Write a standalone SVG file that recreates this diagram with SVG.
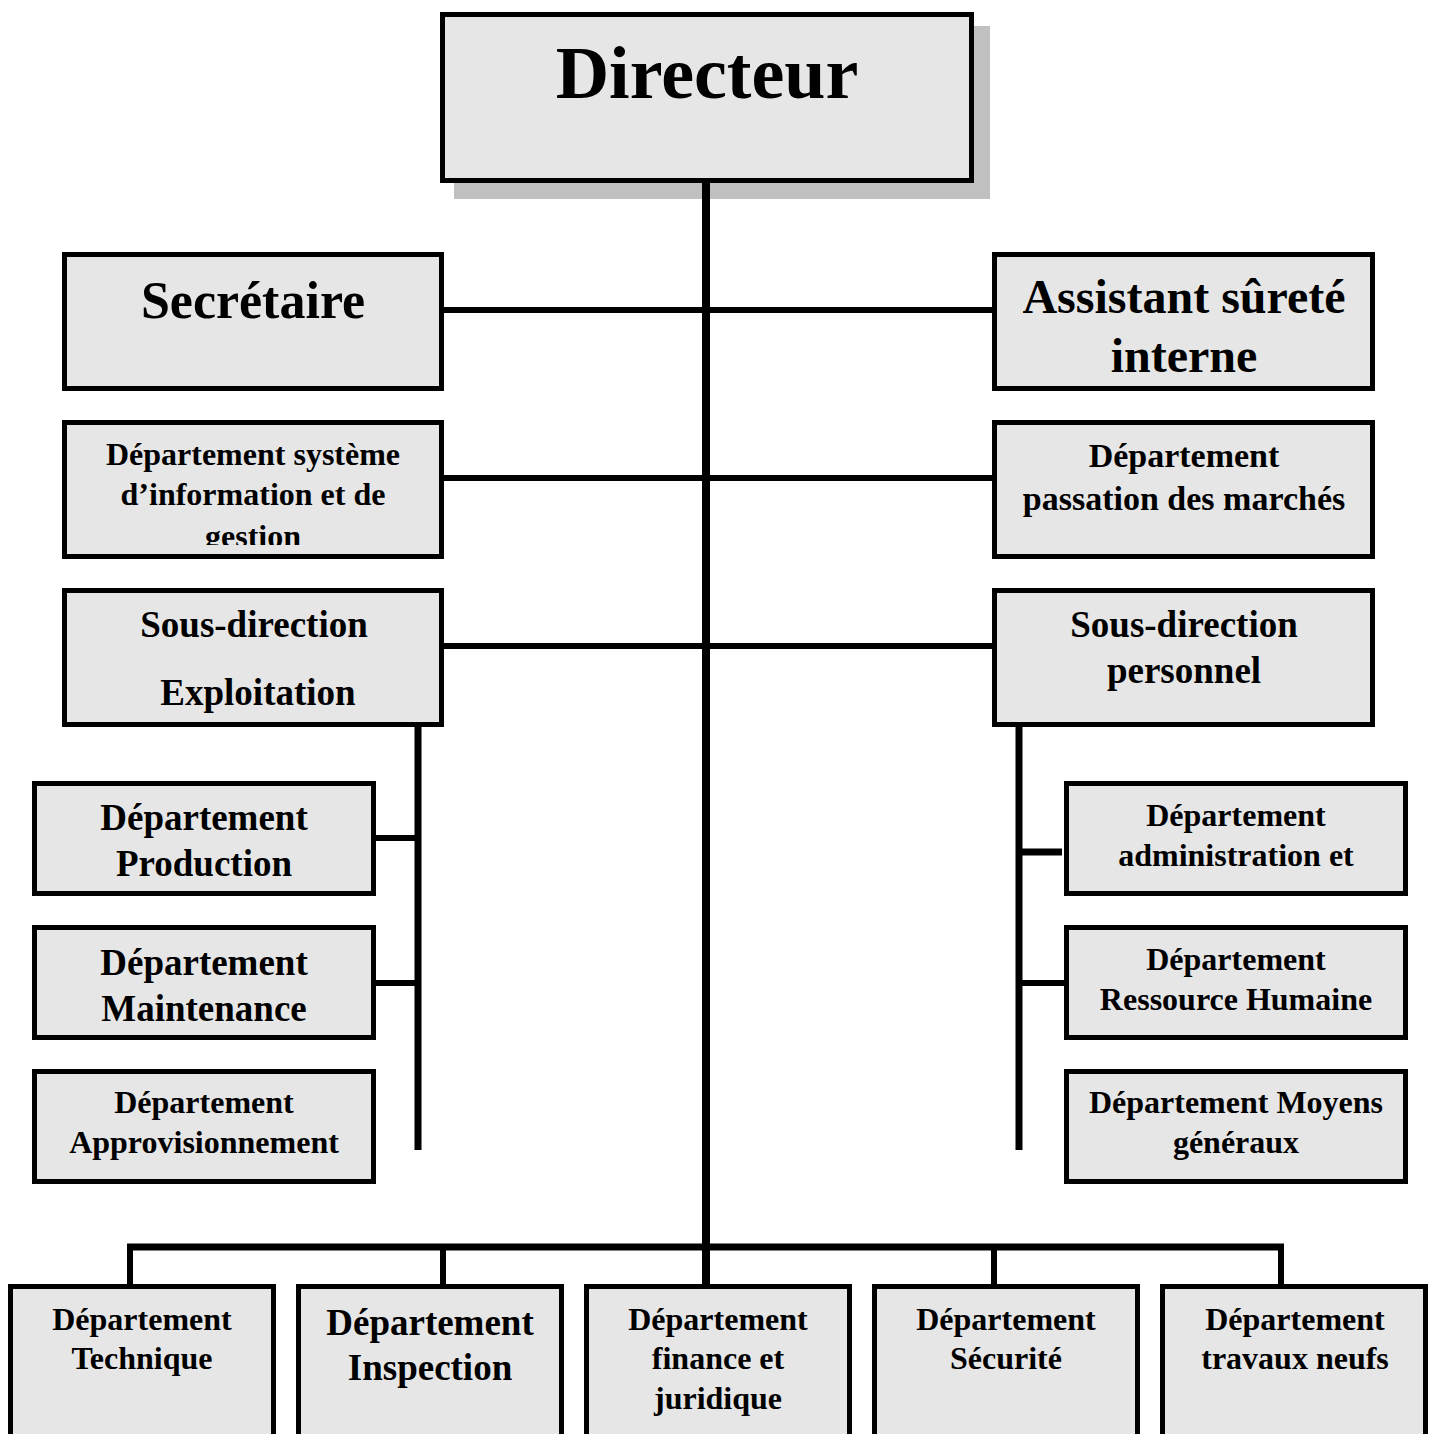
<svg xmlns="http://www.w3.org/2000/svg" width="1435" height="1434" viewBox="0 0 1435 1434">
<style>
.box{fill:#e6e6e6;stroke:#000;stroke-width:5}
.t{font-family:"Liberation Serif","Times New Roman",serif;font-weight:bold;text-anchor:middle;fill:#000}
.c{stroke:#000;fill:none;stroke-linecap:butt}
</style>
<defs>
<clipPath id="clipSig"><rect x="65" y="423" width="377" height="122"/></clipPath>
</defs>
<rect width="1435" height="1434" fill="#fff"/>
<g id="directeur">
<rect x="454" y="26" width="536" height="173" fill="#c0c0c0"/>
<rect class="box" x="442.5" y="14.5" width="529" height="166"/>
<text class="t" x="707" y="98" font-size="74">Directeur</text>
</g>
<g id="connectors">
<line class="c" x1="706" y1="183" x2="706" y2="1285" stroke-width="8"/>
<line class="c" x1="444" y1="310" x2="992" y2="310" stroke-width="6"/>
<line class="c" x1="444" y1="478" x2="992" y2="478" stroke-width="6"/>
<line class="c" x1="444" y1="646" x2="992" y2="646" stroke-width="6"/>
<line class="c" x1="418" y1="727" x2="418" y2="1150" stroke-width="7"/>
<line class="c" x1="376" y1="838" x2="418" y2="838" stroke-width="6"/>
<line class="c" x1="371" y1="983" x2="418" y2="983" stroke-width="6"/>
<line class="c" x1="1019" y1="727" x2="1019" y2="1150" stroke-width="7"/>
<line class="c" x1="1019" y1="852" x2="1062" y2="852" stroke-width="7"/>
<line class="c" x1="1019" y1="983" x2="1064" y2="983" stroke-width="6"/>
<line class="c" x1="127" y1="1247" x2="1284" y2="1247" stroke-width="7"/>
<line class="c" x1="130" y1="1247" x2="130" y2="1285" stroke-width="6"/>
<line class="c" x1="443" y1="1247" x2="443" y2="1285" stroke-width="6"/>
<line class="c" x1="994" y1="1247" x2="994" y2="1285" stroke-width="6"/>
<line class="c" x1="1281" y1="1247" x2="1281" y2="1285" stroke-width="6"/>
</g>
<g id="secretaire">
<rect class="box" x="64.5" y="254.5" width="377" height="134"/>
<text class="t" x="253" y="318" font-size="52">Secrétaire</text>
</g>
<g id="assistant">
<rect class="box" x="994.5" y="254.5" width="378" height="134"/>
<text class="t" x="1184" y="313" font-size="48">Assistant sûreté</text>
<text class="t" x="1184" y="372" font-size="48">interne</text>
</g>
<g id="dep-sig">
<rect class="box" x="64.5" y="422.5" width="377" height="134"/>
<g clip-path="url(#clipSig)">
<text class="t" x="253" y="465" font-size="32">Département système</text>
<text class="t" x="253" y="505" font-size="32">d’information et de</text>
<text class="t" x="253" y="547" font-size="32">gestion</text>
</g>
</g>
<g id="dep-marches">
<rect class="box" x="994.5" y="422.5" width="378" height="134"/>
<text class="t" x="1184" y="467" font-size="34">Département</text>
<text class="t" x="1184" y="510" font-size="34">passation des marchés</text>
</g>
<g id="sd-exploitation">
<rect class="box" x="64.5" y="590.5" width="377" height="134"/>
<text class="t" x="254" y="637" font-size="37">Sous-direction</text>
<text class="t" x="258" y="705" font-size="37">Exploitation</text>
</g>
<g id="sd-personnel">
<rect class="box" x="994.5" y="590.5" width="378" height="134"/>
<text class="t" x="1184" y="637" font-size="37">Sous-direction</text>
<text class="t" x="1184" y="683" font-size="37">personnel</text>
</g>
<g id="dep-production">
<rect class="box" x="34.5" y="783.5" width="339" height="110"/>
<text class="t" x="204" y="830" font-size="37">Département</text>
<text class="t" x="204" y="876" font-size="37">Production</text>
</g>
<g id="dep-maintenance">
<rect class="box" x="34.5" y="927.5" width="339" height="110"/>
<text class="t" x="204" y="975" font-size="37">Département</text>
<text class="t" x="204" y="1021" font-size="37">Maintenance</text>
</g>
<g id="dep-approvisionnement">
<rect class="box" x="34.5" y="1071.5" width="339" height="110"/>
<text class="t" x="204" y="1113" font-size="32">Département</text>
<text class="t" x="204" y="1153" font-size="32">Approvisionnement</text>
</g>
<g id="dep-administration">
<rect class="box" x="1066.5" y="783.5" width="339" height="110"/>
<text class="t" x="1236" y="826" font-size="32">Département</text>
<text class="t" x="1236" y="866" font-size="32">administration et</text>
</g>
<g id="dep-rh">
<rect class="box" x="1066.5" y="927.5" width="339" height="110"/>
<text class="t" x="1236" y="970" font-size="32">Département</text>
<text class="t" x="1236" y="1010" font-size="32">Ressource Humaine</text>
</g>
<g id="dep-moyens">
<rect class="box" x="1066.5" y="1071.5" width="339" height="110"/>
<text class="t" x="1236" y="1113" font-size="32">Département Moyens</text>
<text class="t" x="1236" y="1153" font-size="32">généraux</text>
</g>
<g id="dep-technique">
<rect class="box" x="10.5" y="1286.5" width="263" height="160"/>
<text class="t" x="142" y="1330" font-size="32">Département</text>
<text class="t" x="142" y="1369" font-size="32">Technique</text>
</g>
<g id="dep-inspection">
<rect class="box" x="298.5" y="1286.5" width="263" height="160"/>
<text class="t" x="430" y="1335" font-size="37">Département</text>
<text class="t" x="430" y="1380" font-size="37">Inspection</text>
</g>
<g id="dep-finance">
<rect class="box" x="586.5" y="1286.5" width="263" height="160"/>
<text class="t" x="718" y="1330" font-size="32">Département</text>
<text class="t" x="718" y="1369" font-size="32">finance et</text>
<text class="t" x="718" y="1409" font-size="32">juridique</text>
</g>
<g id="dep-securite">
<rect class="box" x="874.5" y="1286.5" width="263" height="160"/>
<text class="t" x="1006" y="1330" font-size="32">Département</text>
<text class="t" x="1006" y="1369" font-size="32">Sécurité</text>
</g>
<g id="dep-travaux">
<rect class="box" x="1162.5" y="1286.5" width="263" height="160"/>
<text class="t" x="1295" y="1330" font-size="32">Département</text>
<text class="t" x="1295" y="1369" font-size="32">travaux neufs</text>
</g>
</svg>
